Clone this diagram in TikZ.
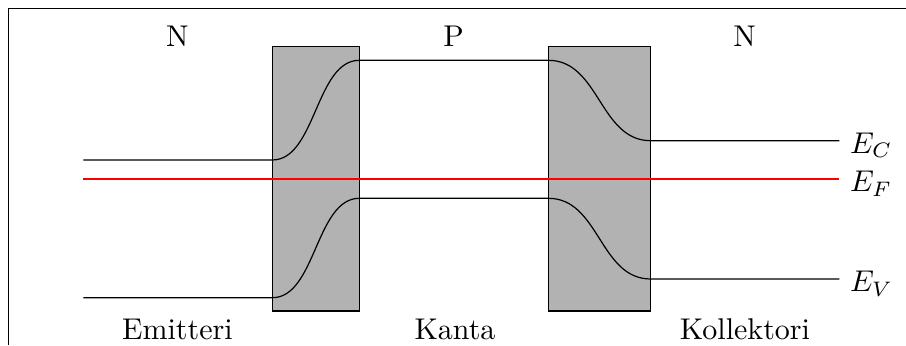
\documentclass[tikz,border=0pt]{standalone}
\begin{document}
\begin{tikzpicture}[x=0.33333pt,y=-0.33333pt,
  barrier/.style={draw=black,fill=black!30},
  band/.style={draw=black},
  fermi/.style={draw=red},
  region/.style={anchor=base,inner sep=0pt},
  level/.style={anchor=base west,inner sep=0pt}]
\useasboundingbox (0,0) rectangle (906,345);
% frame
\draw (8.5,345) -- (8.5,8.5) -- (906,8.5);
% barriers
\draw[barrier] (272.3,46.7) rectangle (359.3,311);
\draw[barrier] (548.3,46.7) rectangle (650.7,311);
% key points
\coordinate (cl) at (83.3,160);
\coordinate (c1) at (272.3,160);
\coordinate (c2) at (359.3,60.3);
\coordinate (c3) at (548.3,60.3);
\coordinate (c4) at (650.7,140.7);
\coordinate (cr) at (839.3,140.7);
\coordinate (vl) at (83.3,297.7);
\coordinate (v1) at (272.3,297.7);
\coordinate (v2) at (359.3,198.3);
\coordinate (v3) at (548.3,198.3);
\coordinate (v4) at (650.7,279);
\coordinate (vr) at (839.3,279);
\coordinate (fl) at (83.3,179);
\coordinate (fr) at (839.3,179);
% conduction band
\draw[band] (cl) -- (c1) .. controls (315.8,160) and (315.8,60.3) .. (c2) -- (c3)
  .. controls (599.5,60.3) and (599.5,140.7) .. (c4) -- (cr);
% valence band
\draw[band] (vl) -- (v1) .. controls (315.8,297.7) and (315.8,198.3) .. (v2) -- (v3)
  .. controls (599.5,198.3) and (599.5,279) .. (v4) -- (vr);
% Fermi level
\draw[fermi] (fl) -- (fr);
% labels
\node[level] (ec) at (849.5,153) {$E_C$};
\node[level] (ef) at (849.5,191.7) {$E_F$};
\node[level] (ev) at (849.5,291.7) {$E_V$};
\node[region] (n1) at (177.5,46) {N};
\node[region] (p) at (453.5,46) {P};
\node[region] (n2) at (744.5,46) {N};
\node[region] (em) at (177.5,339.5) {Emitteri};
\node[region] (ka) at (455,339.5) {Kanta};
\node[region] (ko) at (745,339.5) {Kollektori};
\end{tikzpicture}
\end{document}
